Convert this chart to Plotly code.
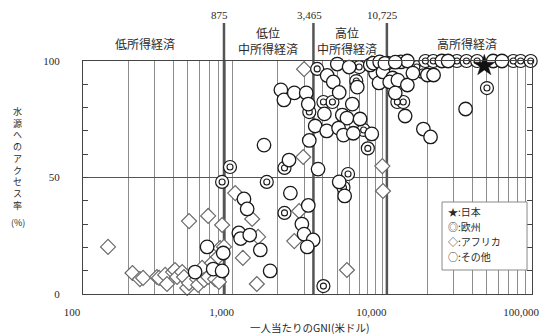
import numpy as np
import plotly.graph_objects as go

# Access to an improved water source (%) against GNI per capita (US$)
japan_gni = [48000]
japan_access = [98]

europe_gni = [960, 850, 1690, 2220, 2220, 3670, 4040, 4640, 3250, 6700, 7000, 7500,
              8000, 5900, 5500, 4040, 12600, 13800, 17000, 18500, 50000,
              19400, 21900, 31500, 36500, 43000, 75000, 84000, 98000]
europe_access = [54.5, 48.1, 48.1, 54.1, 34.8, 96.6, 82.4, 82.4, 78.1, 91.4, 97.4, 70.4,
                 62.5, 51.5, 45.7, 3.4, 82.4, 82.4, 97.4, 95.3, 88.4,
                 100, 100, 100, 100, 100, 100, 100, 100]

africa_gni = [147, 214, 240, 252, 312, 322, 354, 364, 400, 412, 425, 460, 473, 497,
              511, 579, 588, 625, 644, 686, 728, 763, 810, 511, 686, 850, 825, 875,
              800, 1040, 1350, 1480, 1170, 1450, 2580, 2780, 2960, 3000, 10000, 10100,
              5800, 8500]
africa_access = [20.2, 9, 6.4, 6.9, 7.3, 6.9, 8.2, 4.3, 9.4, 10.3, 7.3, 9.4, 7.3, 2.6,
                 4.7, 6.4, 3.9, 11.2, 6, 7.3, 13.3, 6.4, 5.2, 31.3, 33.5, 29.6, 19.7, 20.2,
                 15.9, 43.3, 32.2, 24.5, 15.5, 4.3, 22.7, 35.6, 58.8, 96.5, 54.9, 44.2,
                 10.3, 99]

other_gni = [561, 741, 850, 675, 865, 1100, 1130, 1300, 1190, 1250, 1530, 1780, 1620,
             2430, 2380, 3720, 3200, 2900, 3000, 3450, 3150, 5150, 5600,
             2100, 2200, 2580, 3100, 3200, 4280, 4700, 5150, 6800, 6300, 9000, 9500,
             4100, 5400, 5800, 7100, 3560, 4250, 5100, 5500, 6400, 8500, 3250,
             5000, 6000, 8300, 8700, 9600, 10800, 13300, 14700,
             10100, 11700, 11200, 12700, 14700, 12200, 14200, 16000, 20000, 22000,
             18800, 21000, 36000, 10400, 12200, 25000, 27500, 55000, 63000]
other_access = [9.4, 10.7, 9.9, 20.2, 17.6, 26.2, 23.8, 25.3, 40.8, 36.5, 18.9, 9.9, 63.9,
                43.3, 57.5, 53.6, 38, 30, 25.7, 23.2, 20.2, 48.1, 42.1,
                87.6, 83.3, 86.3, 86.3, 81.5, 93.8, 91, 86.5, 88.8, 81.5, 94.8, 90.6,
                77.3, 76.8, 75.5, 75.1, 72.1, 70, 71.2, 68.2, 69, 68.7, 65.9,
                98.7, 97.4, 98.3, 99.1, 99.6, 99.1, 99.6, 100,
                95.3, 92.7, 91, 91.8, 89.7, 86.3, 76.4, 94.8, 94, 94,
                70.8, 67.4, 79.4, 99, 99.5, 100, 100, 100, 100]

# Income-group thresholds (US$) and their labels
thresholds = [875, 3465, 10725]
threshold_labels = ["875", "3,465", "10,725"]
group_labels = ["低所得経済", "低位<br>中所得経済", "高位<br>中所得経済", "高所得経済"]
group_pos = [2.411, 3.237, 3.766, 4.569]  # log10 positions of the group captions

legend_lines = ["★:日本", "◎:欧州", "◇:アフリカ", "○:その他"]

# x-axis grid at every 1..9 x 10^n, labelled only at decades
decade_text = {100: "100", 1000: "1,000", 10000: "10,000", 100000: "100,000"}
x_tickvals = [m * 10 ** d for d in (2, 3, 4) for m in range(1, 10)] + [100000]
x_ticktext = [decade_text.get(v, "") for v in x_tickvals]

JP = "Noto Sans CJK JP"
NUM = "Liberation Serif"
INK = "#2a2a2a"

fig = go.Figure()

fig.add_trace(go.Scatter(
    x=africa_gni, y=africa_access, mode="markers", name="アフリカ",
    cliponaxis=False,
    marker=dict(symbol="diamond", size=11.5, color="white",
                line=dict(color="#6a6a6a", width=1.2)),
))
fig.add_trace(go.Scatter(
    x=europe_gni, y=europe_access, mode="markers", name="欧州",
    cliponaxis=False,
    marker=dict(symbol="circle", size=13, color="white",
                line=dict(color="#1a1a1a", width=1.2)),
))
fig.add_trace(go.Scatter(
    x=europe_gni, y=europe_access, mode="markers", showlegend=False,
    cliponaxis=False, hoverinfo="skip",
    marker=dict(symbol="circle", size=6, color="white",
                line=dict(color="#1a1a1a", width=1.1)),
))
fig.add_trace(go.Scatter(
    x=other_gni, y=other_access, mode="markers", name="その他",
    cliponaxis=False,
    marker=dict(symbol="circle", size=13.5, color="white",
                line=dict(color="#1a1a1a", width=1.3)),
))
fig.add_trace(go.Scatter(
    x=japan_gni, y=japan_access, mode="markers", name="日本",
    cliponaxis=False,
    marker=dict(symbol="star", size=16, color="#111111",
                line=dict(color="#111111", width=0.5)),
))

shapes = []
annotations = []


def note(text, x, y, font, xref="paper", yref="paper", xanchor="center", **kw):
    annotations.append(dict(xref=xref, yref=yref, x=x, y=y, text=text, showarrow=False,
                            xanchor=xanchor, yanchor="middle", font=font, **kw))


# Threshold lines, extending above the plot area
for t, lab in zip(thresholds, threshold_labels):
    shapes.append(dict(type="line", xref="x", yref="paper", x0=t, x1=t, y0=0, y1=1.163,
                       line=dict(color="#555555", width=2.5), layer="below"))
    note(lab, np.log10(t), 1.197, dict(family=NUM, size=11, color=INK),
         xref="x", xshift=-4)

for lab, pos in zip(group_labels, group_pos):
    two_line = "<br>" in lab
    note(lab, pos, 1.086 if two_line else 1.073, dict(family=JP, size=12, color=INK),
         xref="x")

# Legend box
shapes.append(dict(type="rect", xref="paper", yref="paper", x0=0.7996, x1=0.9889,
                   y0=0.103, y1=0.3948, fillcolor="white",
                   line=dict(color="#8a8a8a", width=1), layer="above"))
for line, y in zip(legend_lines, [0.356, 0.2876, 0.2232, 0.163]):
    note(line, 0.8085, y, dict(family=JP, size=10, color=INK), xanchor="left")

# Axis titles
note("<br>".join("水源へのアクセス率"), -0.145, 0.5815, dict(family=JP, size=9, color=INK))
note("(%)", -0.145, 0.309, dict(family=JP, size=9, color=INK))
note("一人当たりのGNI(米ドル)", 0.5056, -0.143, dict(family=JP, size=10.5, color=INK))

fig.update_layout(
    width=550, height=336, autosize=False,
    margin=dict(l=83, r=18, t=61, b=42),
    paper_bgcolor="white", plot_bgcolor="white",
    showlegend=False,
    shapes=shapes, annotations=annotations,
    xaxis=dict(type="log", range=[2, 5], tickvals=x_tickvals, ticktext=x_ticktext,
               showgrid=True, gridcolor="#8c8c8c", gridwidth=1, zeroline=False,
               showline=True, linecolor="#444444", linewidth=1, mirror=True,
               ticks="", ticklabelshift=-11, ticklabelstandoff=8,
               tickfont=dict(family=NUM, size=11, color=INK)),
    yaxis=dict(range=[0, 100], tickvals=[0, 50, 100], ticktext=["0", "50", "100"],
               showgrid=True, gridcolor="#555555", gridwidth=1, zeroline=False,
               showline=True, linecolor="#444444", linewidth=1, mirror="ticks",
               ticks="inside", ticklen=5, tickcolor="#444444",
               minor=dict(dtick=10, ticks="inside", ticklen=5, tickcolor="#444444",
                          showgrid=False),
               ticklabelstandoff=20,
               tickfont=dict(family=NUM, size=11, color=INK)),
)

fig.write_html("out.html")
